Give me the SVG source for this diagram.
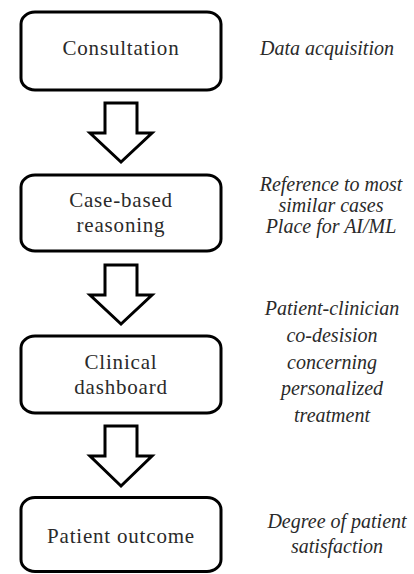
<svg xmlns="http://www.w3.org/2000/svg" width="414" height="574" viewBox="0 0 414 574">
<style>
.box{fill:#fff;stroke:#000;stroke-width:3}
.arr{fill:#fff;stroke:#000;stroke-width:3;stroke-linejoin:miter}
.t{font-family:"Liberation Serif","DejaVu Serif",serif;font-size:21px;letter-spacing:0.8px;fill:#2a2a2a;text-anchor:middle}
.n{font-family:"Liberation Serif","DejaVu Serif",serif;font-size:20px;font-style:italic;fill:#2a2a2a;text-anchor:middle}
</style>
<rect width="414" height="574" fill="#fff"/>
<g id="connectors">
<path class="arr" d="M105,103 H137 V133 H152 L121,162 L90,133 H105 Z"/>
<path class="arr" d="M105,265 H137 V295 H152 L121,324 L90,295 H105 Z"/>
<path class="arr" d="M105,426 H137 V456 H152 L121,486 L90,456 H105 Z"/>
</g>
<g id="consultation">
<rect class="box" x="21" y="12" width="200" height="78" rx="14" ry="12"/>
<text class="t" x="121" y="55">Consultation</text>
</g>
<g id="case-based">
<rect class="box" x="21" y="175" width="200" height="76" rx="14" ry="12"/>
<text class="t" x="121" y="207">Case-based</text>
<text class="t" x="121" y="232">reasoning</text>
</g>
<g id="clinical-dashboard">
<rect class="box" x="21" y="336" width="200" height="77" rx="14" ry="12"/>
<text class="t" x="121" y="369">Clinical</text>
<text class="t" x="121" y="394">dashboard</text>
</g>
<g id="patient-outcome">
<rect class="box" x="21" y="497.5" width="200" height="74" rx="14" ry="12"/>
<text class="t" x="121" y="543">Patient outcome</text>
</g>
<g id="note-data">
<text class="n" x="327" y="55">Data acquisition</text>
</g>
<g id="note-reference">
<text class="n" x="331" y="191">Reference to most</text>
<text class="n" x="331" y="212">similar cases</text>
<text class="n" x="331" y="233">Place for AI/ML</text>
</g>
<g id="note-codecision">
<text class="n" x="332" y="315">Patient-clinician</text>
<text class="n" x="332" y="342">co-desision</text>
<text class="n" x="332" y="369">concerning</text>
<text class="n" x="332" y="395">personalized</text>
<text class="n" x="332" y="422">treatment</text>
</g>
<g id="note-satisfaction">
<text class="n" x="337" y="528">Degree of patient</text>
<text class="n" x="337" y="553">satisfaction</text>
</g>
</svg>
